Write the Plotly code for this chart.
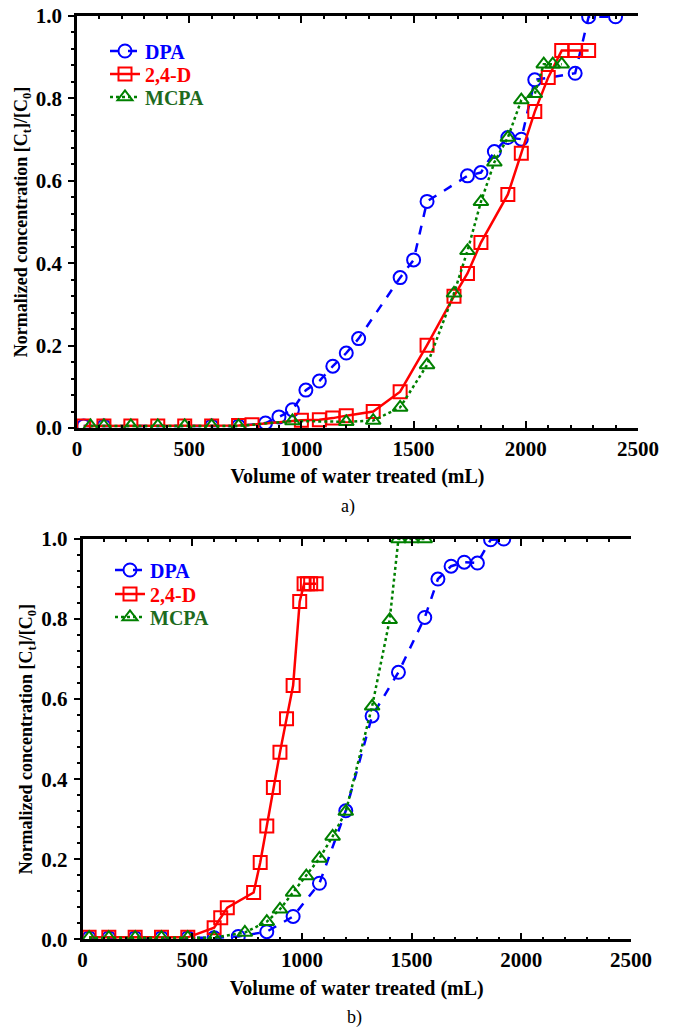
import plotly.graph_objects as go

# ---------------- Data: panel a) ----------------
a_dpa_x = [30, 120, 600, 720, 840, 900, 960, 1020, 1080, 1140, 1200, 1255, 1440, 1500, 1560,
           1740, 1800, 1860, 1920, 1980, 2040, 2220, 2280, 2400]
a_dpa_y = [0.005, 0.005, 0.005, 0.005, 0.012, 0.027, 0.044, 0.092, 0.114, 0.150, 0.182, 0.217,
           0.365, 0.408, 0.550, 0.612, 0.620, 0.671, 0.705, 0.701, 0.845, 0.861, 0.998, 0.998]

a_24d_x = [30, 120, 240, 360, 480, 600, 720, 780, 1000, 1080, 1140, 1200, 1320, 1440, 1560,
           1680, 1740, 1800, 1920, 1980, 2040, 2100, 2160, 2220, 2280]
a_24d_y = [0.005, 0.005, 0.005, 0.005, 0.005, 0.005, 0.006, 0.008, 0.019, 0.020, 0.024, 0.030,
           0.040, 0.088, 0.201, 0.320, 0.375, 0.450, 0.567, 0.667, 0.768, 0.851, 0.916, 0.916, 0.916]

a_mcpa_x = [60, 120, 240, 360, 480, 600, 720, 960, 1200, 1320, 1440, 1560, 1680, 1740, 1800,
            1860, 1920, 1980, 2040, 2080, 2120, 2160]
a_mcpa_y = [0.005, 0.005, 0.005, 0.005, 0.005, 0.005, 0.005, 0.017, 0.015, 0.018, 0.050, 0.153,
            0.327, 0.430, 0.549, 0.645, 0.705, 0.796, 0.811, 0.883, 0.883, 0.883]

# ---------------- Data: panel b) ----------------
b_dpa_x = [30, 120, 240, 360, 480, 600, 710, 840, 960, 1080, 1200, 1320, 1440, 1560, 1620,
           1680, 1740, 1800, 1860, 1920]
b_dpa_y = [0.004, 0.004, 0.004, 0.004, 0.004, 0.004, 0.007, 0.019, 0.057, 0.140, 0.321, 0.558,
           0.667, 0.804, 0.900, 0.932, 0.942, 0.940, 0.998, 1.0]

b_24d_x = [30, 120, 240, 360, 480, 600, 630, 660, 780, 810, 840, 870, 900, 930, 960, 990,
           1010, 1025, 1040, 1065]
b_24d_y = [0.005, 0.005, 0.005, 0.005, 0.005, 0.029, 0.054, 0.079, 0.117, 0.192, 0.283, 0.379,
           0.467, 0.551, 0.634, 0.844, 0.888, 0.888, 0.888, 0.888]

b_mcpa_x = [30, 120, 240, 360, 480, 600, 740, 840, 900, 960, 1020, 1080, 1140, 1200, 1320,
            1400, 1440, 1500, 1560]
b_mcpa_y = [0.004, 0.004, 0.004, 0.004, 0.004, 0.004, 0.017, 0.044, 0.075, 0.117, 0.158, 0.202,
            0.257, 0.319, 0.582, 0.798, 1.0, 1.0, 1.0]

x_ticks = [0, 500, 1000, 1500, 2000, 2500]
y_ticks = [0.0, 0.2, 0.4, 0.6, 0.8, 1.0]

BLUE = "#0000FF"
RED = "#FF0000"
GREEN = "#008000"
GREEN_TXT = "#1E6B1E"
FONT = "Liberation Serif"

W, H = 673, 1028

fig = go.Figure()


def add_series(x, y, xa, ya, legend, name, color, dash, symbol, msize):
    fig.add_trace(go.Scatter(
        x=x, y=y, xaxis=xa, yaxis=ya, legend=legend, name=name,
        mode="lines+markers",
        line=dict(color=color, width=2.5, dash=dash),
        marker=dict(symbol=symbol, size=msize, color=color, line=dict(color=color, width=2)),
    ))


def lname(txt, col):
    return f"<span style='color:{col}'>{txt}</span>"


add_series(a_dpa_x, a_dpa_y, "x", "y", "legend", lname("DPA", BLUE), BLUE, "dash", "circle-open", 13)
add_series(a_24d_x, a_24d_y, "x", "y", "legend2", lname("2,4-D", RED), RED, "solid", "square-open", 13)
add_series(a_mcpa_x, a_mcpa_y, "x", "y", "legend3", lname("MCPA", GREEN_TXT), GREEN, "dot", "triangle-up-open", 13)

add_series(b_dpa_x, b_dpa_y, "x2", "y2", "legend4", lname("DPA", BLUE), BLUE, "dash", "circle-open", 13)
add_series(b_24d_x, b_24d_y, "x2", "y2", "legend5", lname("2,4-D", RED), RED, "solid", "square-open", 13)
add_series(b_mcpa_x, b_mcpa_y, "x2", "y2", "legend6", lname("MCPA", GREEN_TXT), GREEN, "dot", "triangle-up-open", 13)

tickfont = dict(family=FONT, size=21, color="black", weight="bold")
titlefont = dict(family=FONT, size=20, color="black", weight="bold")


def xaxis(domain, anchor):
    return dict(
        domain=domain, anchor=anchor, range=[0, 2500], tickvals=x_ticks,
        ticks="inside", ticklen=7, tickwidth=2, tickcolor="black",
        showline=True, linewidth=2.5, linecolor="black", mirror="ticks",
        showgrid=False, zeroline=False, tickfont=tickfont,
        minor=dict(dtick=100, tick0=0, ticks="inside", ticklen=3, tickwidth=1.5, tickcolor="black", showgrid=False),
        title=dict(text="Volume of water treated (mL)", font=titlefont, standoff=10),
        automargin=False, ticklabelstandoff=0,
    )


def yaxis(domain, anchor):
    return dict(
        domain=domain, anchor=anchor, range=[0, 1], tickvals=y_ticks, tickformat=".1f",
        ticks="outside", ticklen=6, tickwidth=2, tickcolor="black",
        showline=True, linewidth=2.5, linecolor="black", mirror=False,
        showgrid=False, zeroline=False, tickfont=tickfont,
        minor=dict(dtick=0.04, tick0=0, ticks="outside", ticklen=3, tickwidth=1.5, tickcolor="black", showgrid=False),
        title=dict(text="Normalized concentration [C<sub>t</sub>]/[C<sub>0</sub>]",
                   font=dict(family=FONT, size=18, color="black", weight="bold"), standoff=4),
        automargin=False, ticklabelstandoff=2,
    )


def yaxis_right(domain, anchor, overlay):
    return dict(
        domain=domain, anchor=anchor, overlaying=overlay, side="right", range=[0, 1],
        tickvals=y_ticks, showticklabels=False,
        ticks="inside", ticklen=7, tickwidth=2, tickcolor="black",
        showline=True, linewidth=2.5, linecolor="black",
        showgrid=False, zeroline=False,
        minor=dict(dtick=0.04, tick0=0, ticks="inside", ticklen=3, tickwidth=1.5, tickcolor="black", showgrid=False),
        automargin=False,
    )


xa_dom = [77 / W, 638 / W]
ya_dom = [1 - 428 / H, 1 - 16 / H]
xb_dom = [82.5 / W, 631 / W]
yb_dom = [1 - 939.3 / H, 1 - 539 / H]

legfont = dict(family=FONT, size=20, color="black", weight="bold")


def leg(px, py):
    return dict(x=px / W, y=1 - py / H, xanchor="left", yanchor="middle", font=legfont,
                bgcolor="rgba(0,0,0,0)", tracegroupgap=0, itemwidth=30)


fig.update_layout(
    width=W, height=H,
    margin=dict(l=0, r=0, t=0, b=0),
    paper_bgcolor="white", plot_bgcolor="white",
    xaxis=xaxis(xa_dom, "y"),
    yaxis=yaxis(ya_dom, "x"),
    yaxis3=yaxis_right(ya_dom, "x", "y"),
    xaxis2=xaxis(xb_dom, "y2"),
    yaxis2=yaxis(yb_dom, "x2"),
    yaxis4=yaxis_right(yb_dom, "x2", "y2"),
    legend=leg(105, 51),
    legend2=leg(105, 74),
    legend3=leg(105, 97),
    legend4=leg(110, 570),
    legend5=leg(110, 594),
    legend6=leg(110, 617),
    showlegend=True,
    annotations=[
        dict(text="a)", x=348 / W, y=1 - 506 / H, xref="paper", yref="paper", showarrow=False,
             xanchor="center", yanchor="middle",
             font=dict(family=FONT, size=18, color="black")),
        dict(text="b)", x=354 / W, y=1 - 1017 / H, xref="paper", yref="paper", showarrow=False,
             xanchor="center", yanchor="middle",
             font=dict(family=FONT, size=18, color="black")),
    ],
)

fig.write_html("out.html")
